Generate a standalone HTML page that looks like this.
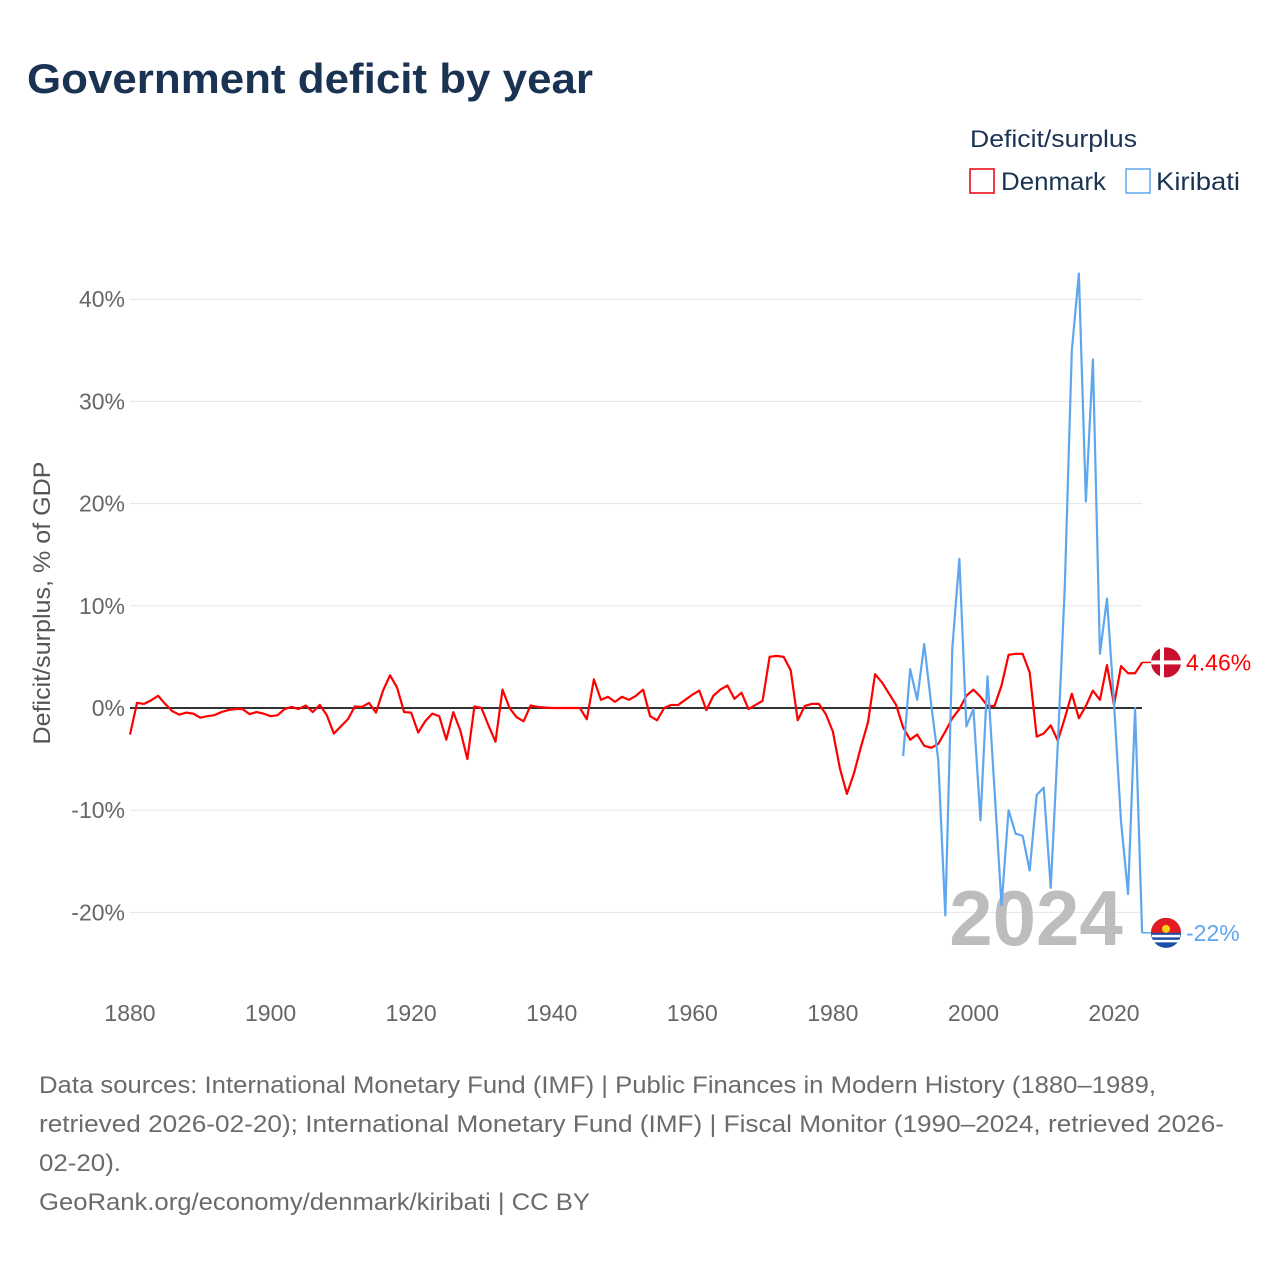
<!DOCTYPE html>
<html><head><meta charset="utf-8"><style>
body{margin:0;background:#fff;font-family:"Liberation Sans",sans-serif}
#wrap{position:relative;width:1280px;height:1280px;overflow:hidden}
</style></head><body>
<div id="wrap">
<svg id="chart" width="1280" height="1280" style="position:absolute;left:0;top:0"></svg>
</div>
<script>
const yearsDK=[];for(let y=1880;y<=2024;y++)yearsDK.push(y);
const denmark=[-2.6,0.5,0.4,0.75,1.2,0.4,-0.3,-0.65,-0.45,-0.55,-0.95,-0.8,-0.7,-0.4,-0.2,-0.1,-0.1,-0.6,-0.4,-0.55,
-0.8,-0.7,-0.1,0.1,-0.1,0.25,-0.4,0.3,-0.7,-2.5,-1.8,-1.1,0.15,0.1,0.5,-0.45,1.7,3.2,2.0,-0.4,
-0.45,-2.4,-1.3,-0.55,-0.8,-3.1,-0.4,-2.2,-5.0,0.15,0,-1.7,-3.3,1.8,0,-0.9,-1.3,0.25,0.1,0.05,
0,0,0,0,0,-1.1,2.8,0.8,1.1,0.6,1.1,0.8,1.2,1.8,-0.8,-1.2,0,0.3,0.3,0.8,
1.3,1.7,-0.2,1.2,1.8,2.2,0.9,1.5,-0.1,0.3,0.7,5.0,5.1,5.0,3.7,-1.2,0.2,0.4,0.4,-0.6,
-2.3,-5.9,-8.4,-6.4,-3.8,-1.4,3.3,2.5,1.4,0.3,-1.9,-3.1,-2.6,-3.7,-3.9,-3.5,-2.3,-1.0,-0.1,1.2,
1.8,1.1,0.2,0.2,2.2,5.2,5.3,5.3,3.5,-2.8,-2.5,-1.7,-3.2,-1.0,1.4,-1.0,0.2,1.7,0.8,4.2,
0.3,4.1,3.4,3.4,4.46];
const yearsKI=[];for(let y=1990;y<=2024;y++)yearsKI.push(y);
const kiribati=[-4.7,3.8,0.8,6.25,0.3,-5.1,-20.3,5.9,14.6,-1.8,-0.1,-11,3.1,-8,-19.3,-10,-12.3,-12.5,-15.9,-8.5,
-7.8,-17.6,-3.6,11.9,35,42.5,20.2,34.1,5.3,10.7,0.5,-11.1,-18.2,0,-22];
const yTicks=[40,30,20,10,0,-10,-20];
const xTicks=[1880,1900,1920,1940,1960,1980,2000,2020];

const NS="http://www.w3.org/2000/svg";
const svg=document.getElementById('chart');
function X(y){return 130+(y-1880)*(984/140);}
function Y(v){return 708-v*10.22;}
function mk(tag,attrs,parent){const e=document.createElementNS(NS,tag);for(const k in attrs)e.setAttribute(k,attrs[k]);(parent||svg).appendChild(e);return e;}

let t=mk('text',{x:27,y:93,'font-size':42,'font-weight':'bold',fill:'#1b3353',textLength:566,lengthAdjust:'spacingAndGlyphs'});t.textContent='Government deficit by year';


t=mk('text',{x:970,y:147,'font-size':24,fill:'#1b3353',textLength:167,lengthAdjust:'spacingAndGlyphs'});t.textContent='Deficit/surplus';

let g=mk('g',{});
mk('rect',{x:970,y:169,width:24,height:24,fill:'none',stroke:'#e8000b','stroke-width':1.5},g);
t=mk('text',{x:1001,y:190,'font-size':25,fill:'#1b3353',textLength:105,lengthAdjust:'spacingAndGlyphs'},g);t.textContent='Denmark';
g=mk('g',{});
mk('rect',{x:1126,y:169,width:24,height:24,fill:'none',stroke:'#5ea7ee','stroke-width':1.5},g);
t=mk('text',{x:1156,y:190,'font-size':25,fill:'#1b3353',textLength:84,lengthAdjust:'spacingAndGlyphs'},g);t.textContent='Kiribati';

t=mk('text',{x:0,y:0,'font-size':24,fill:'#555',transform:'translate(50,603) rotate(-90)','text-anchor':'middle',textLength:283,lengthAdjust:'spacingAndGlyphs'});
t.textContent='Deficit/surplus, % of GDP';

yTicks.forEach(v=>{
  if(v!==0){const l=mk('line',{x1:130,x2:1142,y1:Y(v),y2:Y(v),stroke:'#e6e6e6','stroke-width':1});
  }
  const tx=mk('text',{x:125,y:Y(v)+8,'font-size':23,fill:'#666','text-anchor':'end'});
  tx.textContent=v+'%';
});
xTicks.forEach(v=>{
  const tx=mk('text',{x:X(v),y:1021,'font-size':23,fill:'#666','text-anchor':'middle'});
  tx.textContent=v;
});

t=mk('text',{x:1036,y:945,'font-size':78,'font-weight':'bold',fill:'#bdbdbd','text-anchor':'middle'});
t.textContent='2024';

let zl=mk('line',{x1:130,x2:1142,y1:Y(0),y2:Y(0),stroke:'#333','stroke-width':2});


function series(xs,vs,color,name){
  const p=mk('polyline',{points:xs.map((y,i)=>X(y)+','+Y(vs[i])).join(' '),fill:'none',stroke:color,'stroke-width':2.2,'stroke-linejoin':'round'});
  
}
series(yearsDK,denmark,'#ff0000','denmark-line');
series(yearsKI,kiribati,'#5ea7ee','kiribati-line');

const dkLast=denmark[denmark.length-1],kiLast=kiribati[kiribati.length-1];
mk('line',{x1:X(2024),x2:1152,y1:Y(dkLast),y2:Y(dkLast),stroke:'#ff0000','stroke-width':1.5});
mk('line',{x1:X(2024),x2:1152,y1:Y(kiLast),y2:Y(kiLast),stroke:'#5ea7ee','stroke-width':1.5});
g=mk('g',{});
mk('circle',{cx:1166,cy:Y(dkLast),r:15,fill:'#c8102e'},g);
mk('rect',{x:1160,y:Y(dkLast)-15,width:4,height:30,fill:'#fff'},g);
mk('rect',{x:1151,y:Y(dkLast)-2,width:30,height:4,fill:'#fff'},g);
t=mk('text',{x:1186,y:Y(dkLast)+8,'font-size':23,fill:'#ff0000'});t.textContent=dkLast+'%';

const ky=Y(kiLast);
g=mk('g',{});
mk('circle',{cx:1166,cy:ky,r:15,fill:'#1e4fa8'},g);
mk('path',{d:`M1151 ${ky} A15 15 0 0 1 1181 ${ky} Z`,fill:'#e31b23'},g);
mk('circle',{cx:1166,cy:ky-4,r:4,fill:'#fcd116'},g);
mk('rect',{x:1152,y:ky+2,width:28,height:2.5,fill:'#fff'},g);
mk('rect',{x:1153,y:ky+7,width:26,height:2.5,fill:'#fff'},g);
t=mk('text',{x:1186,y:ky+8,'font-size':23,fill:'#5ea7ee'});t.textContent=kiLast+'%';


const foot=['Data sources: International Monetary Fund (IMF) | Public Finances in Modern History (1880–1989,',
'retrieved 2026-02-20); International Monetary Fund (IMF) | Fiscal Monitor (1990–2024, retrieved 2026-',
'02-20).','GeoRank.org/economy/denmark/kiribati | CC BY'];
const footLen=[1117,1185,82,551];
foot.forEach((s,i)=>{const tx=mk('text',{x:39,y:1093+i*39,'font-size':24,fill:'#6b6b6b',textLength:footLen[i],lengthAdjust:'spacingAndGlyphs'});tx.textContent=s;
});
</script>
</body></html>
